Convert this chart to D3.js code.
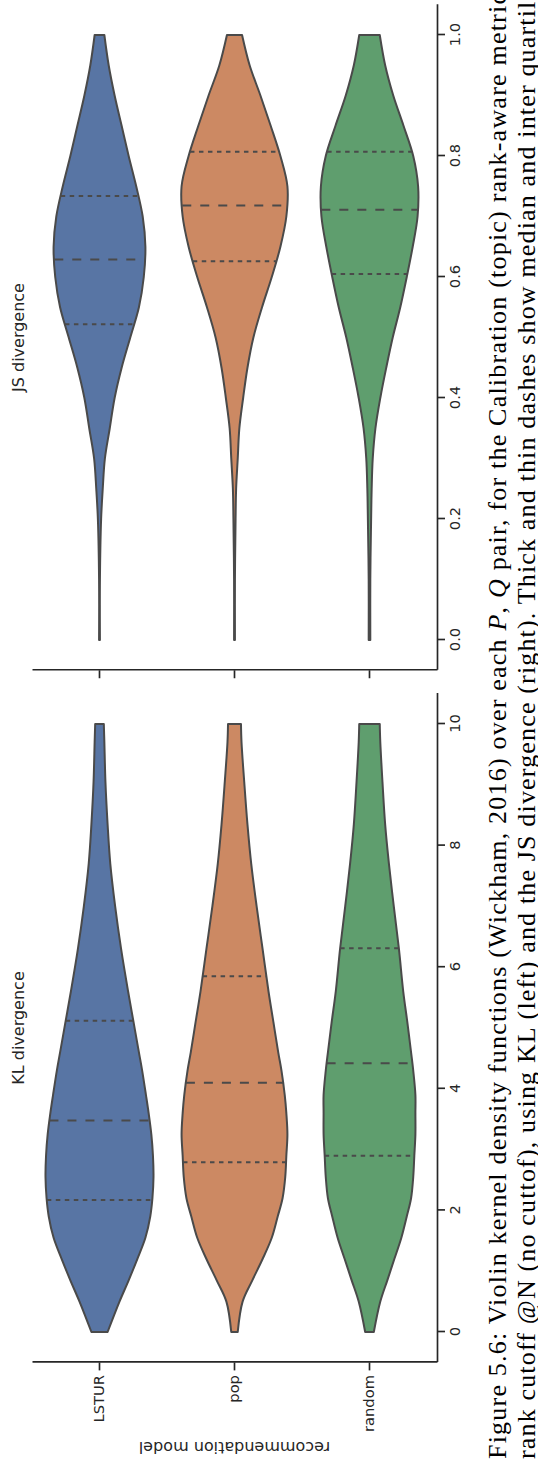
<!DOCTYPE html>
<html>
<head>
<meta charset="utf-8">
<script src="https://cdn.jsdelivr.net/npm/d3@7"></script>
<style>
  body { margin: 0; background: #fff; }
  svg { display: block; }
  .caption { font-family: "Liberation Serif", "DejaVu Serif", serif; fill: #000; }
</style>
</head>
<body>
<svg id="chart" width="538" height="1460"></svg>
<script>
var models = ["LSTUR", "pop", "random"];
var fills = ["#5875a4", "#cc8963", "#5f9e6e"];

// KL divergence: relative violin width (density) sampled along the value axis
var klGrid   = [0, 0.5, 0.85, 1.2, 1.55, 1.9, 2.2, 2.55, 2.9, 3.25, 3.6, 3.9, 4.3, 4.6, 5.1, 5.6, 6.3, 7.0, 7.7, 8.35, 9.05, 9.7, 10];
var klLSTUR  = [.15, .37, .54, .70, .85, .94, .98, 1.0, .99, .96, .91, .86, .79, .73, .63, .53, .40, .29, .20, .15, .11, .09, .08];
var klPop    = [.06, .15, .33, .52, .69, .80, .89, .94, .96, .98, .96, .93, .87, .81, .72, .63, .52, .41, .31, .24, .18, .13, .12];
var klRandom = [.08, .20, .33, .46, .59, .69, .77, .81, .83, .85, .85, .85, .81, .77, .70, .625, .545, .45, .36, .29, .24, .20, .19];
// q1, median, q3
var klQuartiles = [[2.17, 3.48, 5.12], [2.79, 4.10, 5.85], [2.90, 4.42, 6.31]];
var klTicks = [0, 2, 4, 6, 8, 10];

// JS divergence
var jsGrid   = [0, 0.1, 0.2, 0.25, 0.3, 0.35, 0.4, 0.45, 0.5, 0.55, 0.6, 0.65, 0.7, 0.75, 0.8, 0.85, 0.9, 0.95, 1.0];
var jsLSTUR  = [.008, .008, .03, .06, .10, .19, .28, .41, .57, .73, .82, .85, .80, .68, .54, .41, .28, .17, .09];
var jsPop    = [.008, .008, .02, .03, .06, .09, .16, .24, .35, .51, .69, .85, .96, .98, .85, .67, .48, .28, .14];
var jsRandom = [.015, .015, .03, .04, .06, .11, .20, .31, .43, .57, .69, .80, .89, .90, .81, .63, .44, .29, .19];
var jsQuartiles = [[0.522, 0.629, 0.734], [0.626, 0.718, 0.807], [0.605, 0.711, 0.807]];
var jsTicks = [0, 0.2, 0.4, 0.6, 0.8, 1.0];

var edge = "#4a4a4a";
var ink = "#262626";

var svg = d3.select("#chart");
// the page is printed sideways: draw the figure upright, then turn it
var fig = svg.append("g").attr("transform", "translate(0,1460) rotate(-90)");

var y = d3.scaleBand().domain(models).range([32, 437]);
var w = d3.scaleLinear().domain([0, 1]).range([0, y.bandwidth() * 0.4]);

function panel(o) {
    var x = d3.scaleLinear().domain(o.domain).range(o.range);
    var span = o.range[1] - o.range[0];
    var ax0 = o.range[0] - span * 0.05, ax1 = o.range[1] + span * 0.05;
    var xa = d3.scaleLinear().domain([x.invert(ax0), x.invert(ax1)]).range([ax0, ax1]);
    var g = fig.append("g");

    o.densities.forEach(function (dens, i) {
        var cy = y(models[i]) + y.bandwidth() / 2;
        var pts = o.grid.map(function (v, j) { return [v, dens[j]]; });
        var area = d3.area()
            .x(function (d) { return x(d[0]); })
            .y0(function (d) { return cy - w(d[1]); })
            .y1(function (d) { return cy + w(d[1]); })
            .curve(d3.curveCatmullRom);
        g.append("path")
            .datum(pts)
            .attr("d", area)
            .attr("fill", fills[i])
            .attr("stroke", edge)
            .attr("stroke-width", 2)
            .attr("stroke-linejoin", "round");

        // width of the violin at any value, for the quartile dashes
        var widthAt = d3.scaleLinear().domain(o.grid).range(dens);
        o.quartiles[i].forEach(function (q, k) {
            var hw = w(widthAt(q));
            g.append("line")
                .attr("x1", x(q)).attr("x2", x(q))
                .attr("y1", cy - hw).attr("y2", cy + hw)
                .attr("stroke", edge)
                .attr("stroke-width", 2)
                .attr("stroke-dasharray", k === 1 ? "9,9" : "4.5,4.5");
        });
    });

    var bottom = g.append("g")
        .attr("transform", "translate(0,437)")
        .call(d3.axisBottom(xa).tickValues(o.ticks).tickFormat(o.fmt)
            .tickSize(8).tickPadding(4.7).tickSizeOuter(0));

    var leftAxis = d3.axisLeft(y).tickSize(8).tickPadding(4.7).tickSizeOuter(0);
    if (!o.catLabels) leftAxis.tickFormat("");
    var left = g.append("g")
        .attr("transform", "translate(" + ax0 + ",0)")
        .call(leftAxis);

    [bottom, left].forEach(function (a) {
        a.select(".domain").attr("stroke", ink).attr("stroke-width", 1.67);
        a.selectAll(".tick line").attr("stroke", ink).attr("stroke-width", 1.67);
        a.selectAll(".tick text")
            .attr("fill", ink)
            .style("font-family", "'DejaVu Sans', sans-serif")
            .style("font-size", "14.67px");
    });

    g.append("text")
        .attr("x", (ax0 + ax1) / 2)
        .attr("y", 24)
        .attr("text-anchor", "middle")
        .attr("fill", ink)
        .style("font-family", "'DejaVu Sans', sans-serif")
        .style("font-size", "16px")
        .text(o.title);
}

panel({
    title: "KL divergence",
    domain: [0, 10], range: [128, 736],
    grid: klGrid, densities: [klLSTUR, klPop, klRandom],
    quartiles: klQuartiles, ticks: klTicks, fmt: d3.format("d"),
    catLabels: true
});

panel({
    title: "JS divergence",
    domain: [0, 1], range: [820, 1425],
    grid: jsGrid, densities: [jsLSTUR, jsPop, jsRandom],
    quartiles: jsQuartiles, ticks: jsTicks, fmt: d3.format(".1f"),
    catLabels: false
});

fig.append("text")
    .attr("transform", "translate(18," + (32 + 437) / 2 + ") rotate(-90)")
    .attr("text-anchor", "middle")
    .attr("fill", ink)
    .style("font-family", "'DejaVu Sans', sans-serif")
    .style("font-size", "16px")
    .text("recommendation model");

// caption, two lines (the page cuts them off at the top edge)
var cap1 = fig.append("text").attr("class", "caption")
    .attr("x", 1).attr("y", 506)
    .attr("textLength", 1466).attr("lengthAdjust", "spacing")
    .style("font-size", "26px");
cap1.append("tspan").text("Figure 5.6: Violin kernel density functions (Wickham, 2016) over each ");
cap1.append("tspan").style("font-style", "italic").text("P");
cap1.append("tspan").text(", ");
cap1.append("tspan").style("font-style", "italic").text("Q");
cap1.append("tspan").text(" pair, for the Calibration (topic) rank-aware metric");

fig.append("text").attr("class", "caption")
    .attr("x", 1).attr("y", 535)
    .attr("textLength", 1470).attr("lengthAdjust", "spacing")
    .style("font-size", "26px")
    .text("rank cutoff @N (no cuttof), using KL (left) and the JS divergence (right). Thick and thin dashes show median and inter quartile");
</script>
</body>
</html>
